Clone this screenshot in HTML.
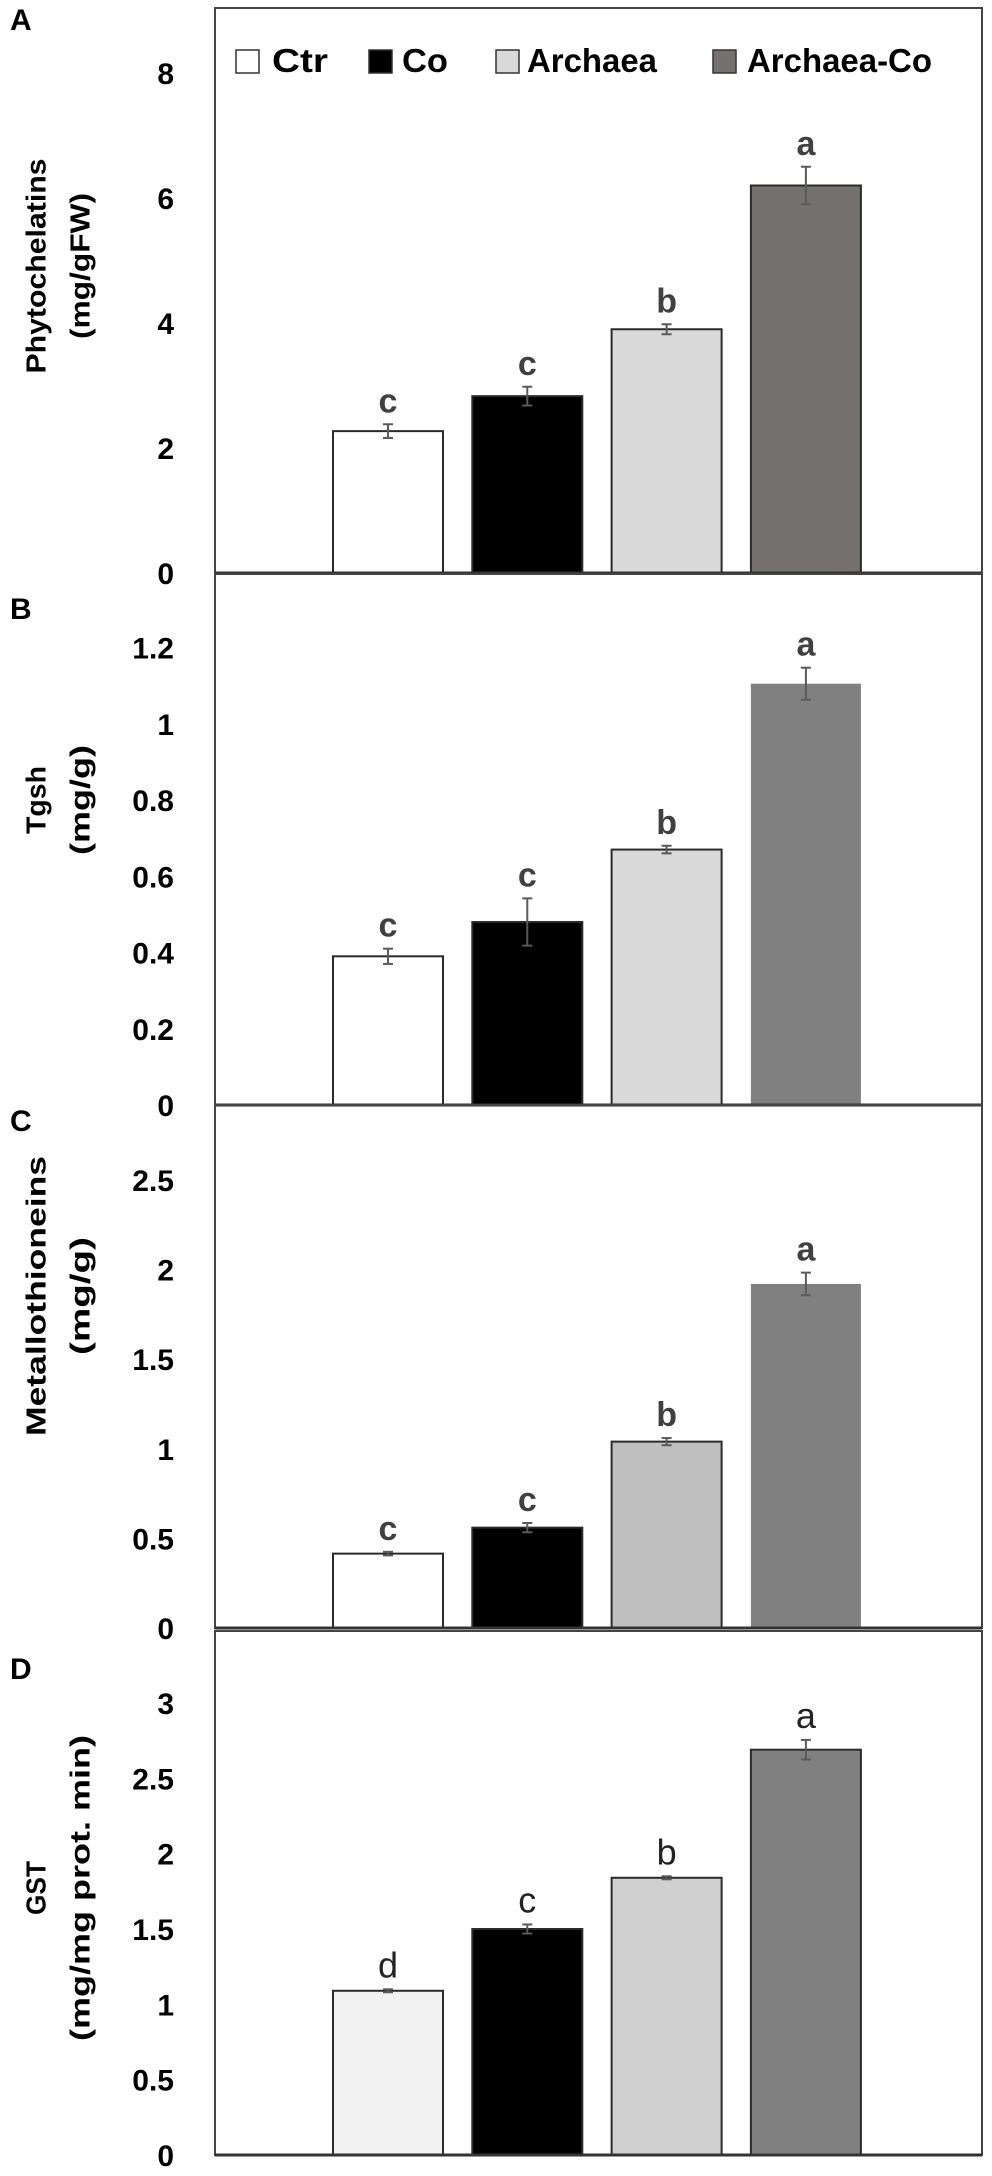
<!DOCTYPE html>
<html><head><meta charset="utf-8"><style>
html,body{margin:0;padding:0;background:#fff;}
svg{display:block;}
text{font-family:"Liberation Sans",Arial,sans-serif;}
</style></head><body>
<svg id="chart" width="992" height="2176" viewBox="0 0 992 2176" xmlns="http://www.w3.org/2000/svg"></svg>
<script>
const categories = ["Ctr","Co","Archaea","Archaea-Co"];
const phytoValues = [2.27, 2.83, 3.90, 6.20];
const phytoErrors = [0.11, 0.15, 0.08, 0.30];
const phytoLetters = ["c","c","b","a"];
const phytoTicks = [0,2,4,6,8];
const tgshValues = [0.39, 0.48, 0.67, 1.105];
const tgshErrors = [0.02, 0.062, 0.01, 0.042];
const tgshLetters = ["c","c","b","a"];
const tgshTicks = [0,0.2,0.4,0.6,0.8,1,1.2];
const metalValues = [0.415, 0.56, 1.04, 1.92];
const metalErrors = [0.01, 0.026, 0.02, 0.063];
const metalLetters = ["c","c","b","a"];
const metalTicks = [0,0.5,1,1.5,2,2.5];
const gstValues = [1.09, 1.50, 1.84, 2.69];
const gstErrors = [0.01, 0.03, 0.01, 0.065];
const gstLetters = ["d","c","b","a"];
const gstTicks = [0,0.5,1,1.5,2,2.5,3];

const NS = "http://www.w3.org/2000/svg";
const svg = document.getElementById("chart");
function mk(tag, attrs, parent){
  const e = document.createElementNS(NS, tag);
  for (const k in attrs) e.setAttribute(k, attrs[k]);
  (parent||svg).appendChild(e);
  return e;
}
function bandX(i){ return 333 + i*139.3; }
const barW = 110;

const panels = [
  {id:"a", label:"A", labelY:30, top:8, base:573, tickMax:8, tickMaxY:73, values:phytoValues, errors:phytoErrors, letters:phytoLetters, ticks:phytoTicks,
   t1:"Phytochelatins", t1len:215, t2:"(mg/gFW)", t2len:146, tY:266,
   fills:["#ffffff","#000000","#d9d9d9","#767171"], outline:[true,true,true,true], bold:true},
  {id:"b", label:"B", labelY:619, top:574, base:1105, tickMax:1.2, tickMaxY:647.5, values:tgshValues, errors:tgshErrors, letters:tgshLetters, ticks:tgshTicks,
   t1:"Tgsh", t1len:68, t2:"(mg/g)", t2len:110, tY:800,
   fills:["#ffffff","#000000","#d9d9d9","#808080"], outline:[true,true,true,false], bold:true},
  {id:"c", label:"C", labelY:1131, top:1105, base:1628, tickMax:2.5, tickMaxY:1180, values:metalValues, errors:metalErrors, letters:metalLetters, ticks:metalTicks,
   t1:"Metallothioneins", t1len:280, t2:"(mg/g)", t2len:118, tY:1296,
   fills:["#ffffff","#000000","#bfbfbf","#808080"], outline:[true,true,true,false], bold:true},
  {id:"d", label:"D", labelY:1679, top:1631, base:2155, tickMax:3, tickMaxY:1703, values:gstValues, errors:gstErrors, letters:gstLetters, ticks:gstTicks,
   t1:"GST", t1len:54, t2:"(mg/mg prot. min)", t2len:306, tY:1888,
   fills:["#f2f2f2","#000000","#d0d0d0","#808080"], outline:[true,true,true,true], bold:false}
];

panels.forEach(p => {
  const g = mk("g", {});
  
  
  const scale = (p.base - p.tickMaxY) / p.tickMax;
  const y = v => p.base - v*scale;

  const lab = mk("text", {x:10, y:p.labelY, "font-size":30, "font-weight":"bold", fill:"#000"}, g);
  lab.textContent = p.label;
  
  

  const box = mk("rect", {x:215, y:p.top, width:767, height:p.base-p.top, fill:"none", stroke:"#444", "stroke-width":2}, g);
  
  

  p.ticks.forEach(t => {
    const tx = mk("text", {x:174, y:y(t)+11, "font-size":30, "font-weight":"bold", "text-anchor":"end", fill:"#000"}, g);
    tx.textContent = String(t);
    
    
  });

  const t1 = mk("text", {transform:`translate(36 ${p.tY}) rotate(-90)`, "font-size":28, "font-weight":"bold", "text-anchor":"middle", "dominant-baseline":"central", textLength:p.t1len, lengthAdjust:"spacingAndGlyphs", fill:"#000"}, g);
  t1.textContent = p.t1;
  
  
  const t2 = mk("text", {transform:`translate(80 ${p.tY}) rotate(-90)`, "font-size":28, "font-weight":"bold", "text-anchor":"middle", "dominant-baseline":"central", textLength:p.t2len, lengthAdjust:"spacingAndGlyphs", fill:"#000"}, g);
  t2.textContent = p.t2;
  
  

  p.values.forEach((v, i) => {
    const x0 = bandX(i);
    const r = mk("rect", {x:x0, y:y(v), width:barW, height:p.base-y(v), fill:p.fills[i], stroke:p.outline[i]?"#2b2b2b":"none", "stroke-width":2}, g);
    
    
    const cx = x0 + barW/2;
    const e = p.errors[i];
    const eg = mk("g", {stroke:"#5a5a5a", "stroke-width":2}, g);
    
    
    mk("line", {x1:cx, x2:cx, y1:y(v+e), y2:y(v-e)}, eg);
    mk("line", {x1:cx-5, x2:cx+5, y1:y(v+e), y2:y(v+e)}, eg);
    mk("line", {x1:cx-5, x2:cx+5, y1:y(v-e), y2:y(v-e)}, eg);
    const lt = mk("text", {x:cx, y:y(v+e)-12, "font-size":p.bold?34:36, "font-weight":p.bold?"bold":"normal", "text-anchor":"middle", fill:p.bold?"#404040":"#222"}, g);
    lt.textContent = p.letters[i];
    
    
  });

  const bl = mk("line", {x1:215, x2:982, y1:p.base, y2:p.base, stroke:"#333", "stroke-width":3}, g);
  
  
});

// legend
const legFills = ["#ffffff","#000000","#d9d9d9","#767171"];
const legSq = [236, 369, 496, 713];
const legTx = [272, 402, 527, 747];
const legLen = [56, 46, 130, 185];
categories.forEach((c, i) => {
  const lg = mk("g", {});
  
  
  mk("rect", {x:legSq[i], y:50, width:23, height:23, fill:legFills[i], stroke:"#333", "stroke-width":1.5}, lg);
  const t = mk("text", {x:legTx[i], y:72, "font-size":33, "font-weight":"bold", textLength:legLen[i], lengthAdjust:"spacingAndGlyphs", fill:"#000"}, lg);
  t.textContent = c;
});
</script>
</body></html>
